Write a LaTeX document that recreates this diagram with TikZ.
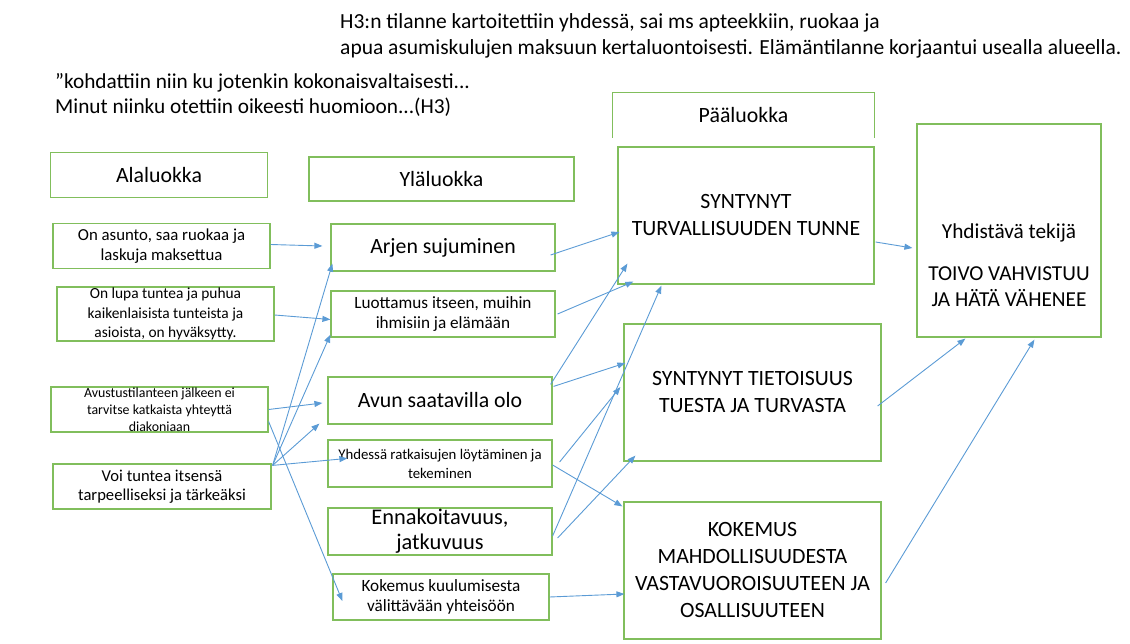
\documentclass[tikz,border=0pt]{standalone}
\usepackage{fontspec}
\setmainfont{Carlito}
\usetikzlibrary{arrows.meta}
\definecolor{boxgreen}{RGB}{129,190,92}
\definecolor{arrowblue}{RGB}{91,155,213}

\begin{document}
\begin{tikzpicture}[
    x=1pt, y=-1pt,
    catbox/.style={rectangle, draw=boxgreen, line width=1.2pt, inner sep=0pt, align=center, font=\fontsize{21.8}{27}\selectfont},
    midtxt/.style={font=\fontsize{17.2}{20}\selectfont},
    arrow/.style={-{Triangle[length=8pt, width=6pt]}, arrowblue, line width=0.9pt},
    lbl/.style={anchor=west, align=left, inner sep=0pt, font=\fontsize{21.5}{26}\selectfont}
]
    \useasboundingbox (0,0) rectangle (1130,644);

    % Texts above
    \node[lbl] (case) at (340,35.5) {H3:n tilanne kartoitettiin yhdessä, sai ms apteekkiin, ruokaa ja\\apua asumiskulujen maksuun kertaluontoisesti. Elämäntilanne korjaantui usealla alueella.};
    \node[lbl, font=\fontsize{21.3}{25}\selectfont] (quote) at (55,95) {”kohdattiin niin ku jotenkin kokonaisvaltaisesti...\\Minut niinku otettiin oikeesti huomioon...(H3)};

    % Headers
    \node[catbox, minimum width=217pt, minimum height=45pt] (alal) at (159,175) {Alaluokka};
    \node[catbox, minimum width=265pt, minimum height=44pt] (ylal) at (441.5,179) {Yläluokka};
    \node[catbox, draw=none, minimum width=261pt, minimum height=44pt] (paal) at (743.5,115) {Pääluokka};
    \draw[boxgreen, line width=1.2pt] (paal.south west) -- (paal.north west) -- (paal.north east) -- (paal.south east);

    % Alaluokka
    \node[catbox, minimum width=217pt, minimum height=45pt, font=\fontsize{16.8}{19.5}\selectfont] (a1) at (161.5,246) {On asunto, saa ruokaa ja\\laskuja maksettua};
    \node[catbox, minimum width=217pt, minimum height=54pt, font=\fontsize{15.4}{19.5}\selectfont] (a2) at (165.5,314) {On lupa tuntea ja puhua\\kaikenlaisista tunteista ja\\asioista, on hyväksytty.};
    \node[catbox, minimum width=217pt, minimum height=45pt, font=\fontsize{13.9}{17}\selectfont] (a3) at (159.5,409.5) {Avustustilanteen jälkeen ei\\tarvitse katkaista yhteyttä\\diakoniaan};
    \node[catbox, minimum width=218pt, minimum height=45pt, font=\fontsize{16.6}{19}\selectfont] (a4) at (162,486.5) {Voi tuntea itsensä\\tarpeelliseksi ja tärkeäksi};

    % Yläluokka
    \node[catbox, minimum width=224pt, minimum height=47pt] (y1) at (443,247.5) {Arjen sujuminen};
    \node[catbox, minimum width=224pt, minimum height=46pt, midtxt] (y2) at (443,314) {Luottamus itseen, muihin\\ihmisiin ja elämään};
    \node[catbox, minimum width=224pt, minimum height=47pt] (y3) at (440,400.5) {Avun saatavilla olo};
    \node[catbox, minimum width=224pt, minimum height=47pt, font=\fontsize{14.8}{19}\selectfont] (y4) at (440,463.5) {Yhdessä ratkaisujen löytäminen ja\\tekeminen};
    \node[catbox, minimum width=224pt, minimum height=47pt, font=\fontsize{22.4}{25}\selectfont] (y5) at (440,531.5) {Ennakoitavuus,\\jatkuvuus};
    \node[catbox, minimum width=216pt, minimum height=46pt, midtxt] (y6) at (441,597) {Kokemus kuulumisesta\\välittävään yhteisöön};

    % Pääluokka
    \node[catbox, minimum width=256pt, minimum height=137pt] (p1) at (746,215.5) {SYNTYNYT\\TURVALLISUUDEN TUNNE};
    \node[catbox, minimum width=257pt, minimum height=137pt] (p2) at (752.5,392.5) {SYNTYNYT TIETOISUUS\\TUESTA JA TURVASTA};
    \node[catbox, minimum width=257pt, minimum height=137pt] (p3) at (752.5,570.5) {KOKEMUS\\MAHDOLLISUUDESTA\\VASTAVUOROISUUTEEN JA\\OSALLISUUTEEN};

    % Yhdistävä tekijä
    \node[catbox, minimum width=184pt, minimum height=213pt] (yt) at (1009,230.5) {};
    \node[catbox, draw=none, font=\fontsize{21.3}{26}\selectfont] (yttxt) at (1009,265) {Yhdistävä tekijä\\[16pt]TOIVO VAHVISTUU\\JA HÄTÄ VÄHENEE};

    % Alaluokka -> Yläluokka
    \coordinate (vo) at ([xshift=1pt, yshift=-2pt]a4.north east);
    \draw[arrow] ([yshift=1.5pt]a1.east) -- ([xshift=-8pt, yshift=1.5pt]y1.west);
    \draw[arrow] ([yshift=-1pt]a2.east) -- ([yshift=-5.5pt]y2.west);
    \draw[arrow] (a3.east) -- ([xshift=-5pt, yshift=-2.5pt]y3.west);
    \draw[arrow] ([yshift=-12pt]a3.east) -- ([xshift=10pt, yshift=-4pt]y6.west);
    \draw[arrow] (vo) -- ([xshift=2pt, yshift=8pt]y1.south west);
    \draw[arrow] (vo) -- ([yshift=3pt]y2.south west);
    \draw[arrow] (vo) -- ([xshift=-8pt, yshift=1pt]y3.south west);
    \draw[arrow] (vo) -- ([xshift=20pt, yshift=-19pt]y4.north west);

    % Yläluokka -> Pääluokka
    \draw[arrow] ([xshift=-5pt, yshift=-7.5pt]y1.east) -- ([xshift=2pt, yshift=-16.5pt]p1.west);
    \draw[arrow] ([xshift=2pt]y2.east) -- ([xshift=16pt, yshift=3pt]p1.south west);
    \draw[arrow] ([xshift=-2pt, yshift=-8pt]y3.north east) -- ([xshift=10pt, yshift=21pt]p1.south west);
    \draw[arrow] ([xshift=1pt, yshift=-10pt]y3.north east) -- ([xshift=2pt, yshift=29.5pt]p2.west);
    \draw[arrow] ([xshift=7pt, yshift=1.5pt]y4.east) -- ([xshift=-3pt, yshift=5.5pt]p2.west);
    \draw[arrow] ([yshift=-1.5pt]y4.east) -- ([xshift=-1pt, yshift=-5pt]p3.north west);
    \draw[arrow] ([yshift=-4.5pt]y5.east) -- ([xshift=44pt, yshift=-1pt]p1.south west);
    \draw[arrow] ([xshift=5pt, yshift=-6.5pt]y5.east) -- ([xshift=12pt, yshift=6pt]p2.south west);
    \draw[arrow] (y6.east) -- ([xshift=1pt, yshift=-23.5pt]p3.west);

    % Pääluokka -> Yhdistävä tekijä
    \draw[arrow] ([xshift=1pt, yshift=-26.5pt]p1.east) -- ([xshift=-4pt, yshift=-17.5pt]yt.west);
    \draw[arrow] ([xshift=-4pt, yshift=-13.5pt]p2.east) -- ([xshift=49pt, yshift=-1pt]yt.south west);
    \draw[arrow] ([xshift=4pt, yshift=-12.5pt]p3.east) -- ([xshift=118pt, yshift=-2pt]yt.south west);
\end{tikzpicture}
\end{document}
